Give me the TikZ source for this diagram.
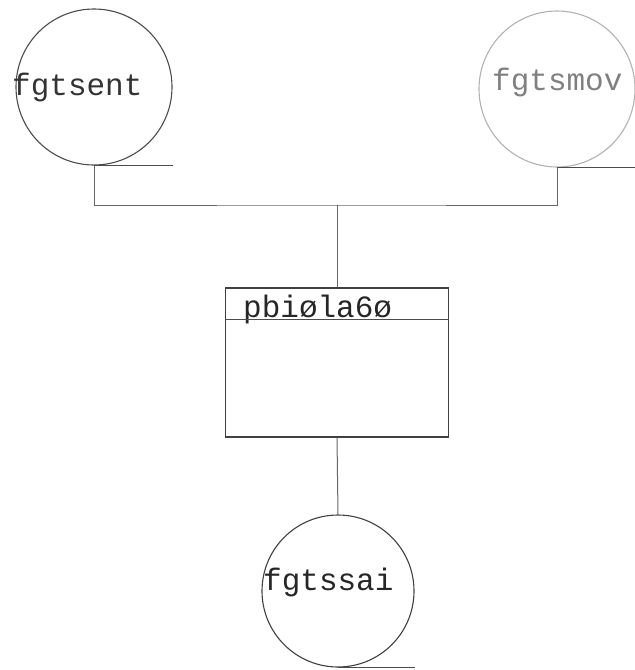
\documentclass[tikz,border=0pt]{standalone}
\usepackage{fontspec}
\newfontfamily\printfont{Liberation Mono}
\tikzset{
  file/.style={circle, draw, line width=1.1pt, minimum size=156pt, inner sep=0pt},
  fname/.style={anchor=base west, inner sep=0pt, font=\printfont\fontsize{31}{31}\selectfont},
  link/.style={draw=black!60, line width=1pt},
}
\begin{document}
\begin{tikzpicture}[x=1pt, y=-1pt]
  \useasboundingbox (0, 0) rectangle (635, 670);
  \node[file, draw=black!70] (sent) at (94, 87) {};
  \node[file, draw=black!30] (smov) at (557, 89) {};
  \node[file, draw=black!75, minimum size=152pt] (ssai) at (338, 591) {};
  \node[draw=black!75, line width=1.1pt, minimum width=223pt, minimum height=149pt, inner sep=0pt] (prog) at (337, 362.5) {};
  \node[fname, text=black!80] (sent-name) at (12, 95) {fgtsent};
  \node[fname, text=black!50] (smov-name) at (492, 90) {fgtsmov};
  \node[fname, text=black!85] (ssai-name) at (263, 590) {fgtssai};
  \node[fname, text=black!85] (prog-name) at (243, 317) {pbiøla6ø};
  \draw[line width=1.1pt, black!70] ([yshift=-32pt]prog.north west) -- ([yshift=-32pt]prog.north east);
  \foreach \f in {sent, smov, ssai} {
    \draw[line width=1.1pt, black!70] (\f.south) -- (\f.south -| \f.east);
  }
  \coordinate (bus) at (prog.north |- 0, 205);
  \draw[link] (sent.south) |- (bus) -| (smov.south);
  \draw[link] (bus) -- (prog.north);
  \draw[link] (prog.south) -- (ssai.north);
\end{tikzpicture}
\end{document}
